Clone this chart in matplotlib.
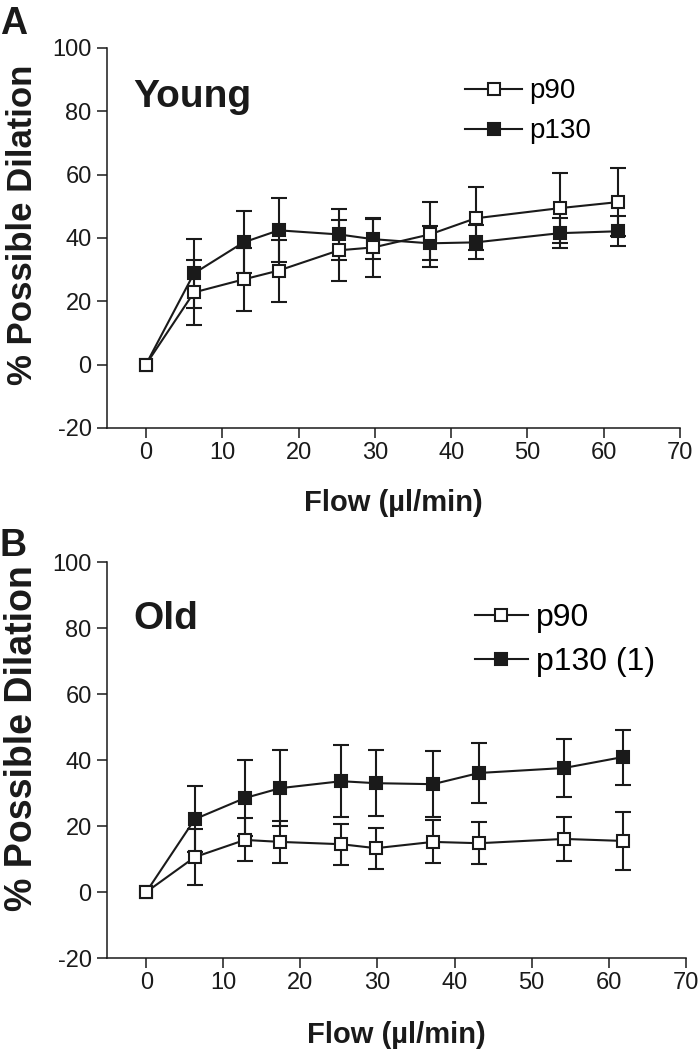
import matplotlib
matplotlib.use('Agg')
import matplotlib.pyplot as plt

# flow rates (µl/min)
flow = [0, 6.3, 12.8, 17.4, 25.3, 29.8, 37.2, 43.2, 54.2, 61.8]

# panel A - young
young_p90 = [0, 22.8, 26.9, 29.7, 36.1, 37.0, 41.1, 46.2, 49.4, 51.3]
young_p90_err = [0, 10.3, 10.0, 9.8, 9.7, 9.2, 10.3, 10.0, 11.0, 10.7]
young_p130 = [0, 28.8, 38.6, 42.4, 41.1, 39.6, 38.3, 38.6, 41.5, 42.1]
young_p130_err = [0, 11.0, 9.8, 10.1, 8.0, 6.3, 5.4, 5.4, 4.7, 4.8]

# panel B - old
old_p90 = [0, 10.6, 15.8, 15.2, 14.5, 13.3, 15.2, 14.8, 16.1, 15.5]
old_p90_err = [0, 8.5, 6.5, 6.3, 6.2, 6.2, 6.5, 6.4, 6.6, 8.9]
old_p130 = [0, 22.1, 28.5, 31.5, 33.6, 33.0, 32.7, 36.1, 37.6, 40.9]
old_p130_err = [0, 10.0, 11.5, 11.5, 11.0, 10.0, 10.0, 9.0, 8.8, 8.3]

xticks = [0, 10, 20, 30, 40, 50, 60, 70]
yticks = [-20, 0, 20, 40, 60, 80, 100]

plt.rcParams['font.family'] = ['Liberation Sans', 'DejaVu Sans']
plt.rcParams['axes.unicode_minus'] = False

ink = '#1a1a1a'

fig = plt.figure(figsize=(6.99, 10.5), dpi=100)
axA = fig.add_axes([0.153, 0.5924, 0.820, 0.362])
axB = fig.add_axes([0.153, 0.0876, 0.828, 0.377])


def panel(ax, p90, p90_err, p130, p130_err, lab130, ylab_size, ylab_xy,
          leg_size, leg_xy, hlen, lspace):
    kw = dict(color=ink, lw=1.5, marker='s', ms=8.5, mew=1.5, mec=ink)
    err_kw = dict(fmt='none', ecolor=ink, elinewidth=1.5, capsize=5.5, capthick=1.5)
    # error bars (none at the zero point)
    ax.errorbar(flow[1:], p130[1:], yerr=p130_err[1:], zorder=2, **err_kw)
    h130, = ax.plot(flow, p130, mfc=ink, zorder=3, **kw)
    ax.errorbar(flow[1:], p90[1:], yerr=p90_err[1:], zorder=4, **err_kw)
    h90, = ax.plot(flow, p90, mfc='white', zorder=5, **kw)

    ax.set_xlim(-5.1, 70)
    ax.set_ylim(-20, 100)
    ax.set_xticks(xticks)
    ax.set_yticks(yticks)
    for s in ['top', 'right']:
        ax.spines[s].set_visible(False)
    for s in ['left', 'bottom']:
        ax.spines[s].set_linewidth(1.1)
        ax.spines[s].set_color(ink)
    ax.tick_params(direction='out', length=7, width=1.1, color=ink,
                   labelsize=17, labelcolor=ink, pad=3)
    ax.tick_params(axis='y', pad=4)

    ax.set_xlabel('Flow (µl/min)', fontsize=21, fontweight='bold', color=ink)
    ax.set_ylabel('% Possible Dilation', fontsize=ylab_size, fontweight='bold', color=ink)
    ax.xaxis.set_label_coords(0.5, -0.16)
    ax.yaxis.set_label_coords(*ylab_xy)

    ax.legend([h90, h130], ['p90', lab130], loc='center left',
              bbox_to_anchor=leg_xy, frameon=False, fontsize=leg_size,
              handlelength=hlen, handletextpad=0.25, labelspacing=lspace,
              borderpad=0, borderaxespad=0)


panel(axA, young_p90, young_p90_err, young_p130, young_p130_err, 'p130',
      25, (-0.119, 0.534), 20, (0.625, 0.833), 2.05, 0.5)
panel(axB, old_p90, old_p90_err, old_p130, old_p130_err, 'p130 (1)',
      27, (-0.116, 0.555), 23, (0.636, 0.803), 1.65, 0.45)

fig.text(133 / 699, 1 - 107 / 1050, 'Young', fontsize=28, fontweight='bold', color=ink, va='baseline')
fig.text(133 / 699, 1 - 629 / 1050, 'Old', fontsize=28, fontweight='bold', color=ink, va='baseline')
fig.text(0.0, 1 - 6 / 1050, 'A', fontsize=27, fontweight='bold', color=ink, va='top')
fig.text(0.0, 1 - 528 / 1050, 'B', fontsize=27, fontweight='bold', color=ink, va='top')

fig.savefig('out.png', dpi=100)
